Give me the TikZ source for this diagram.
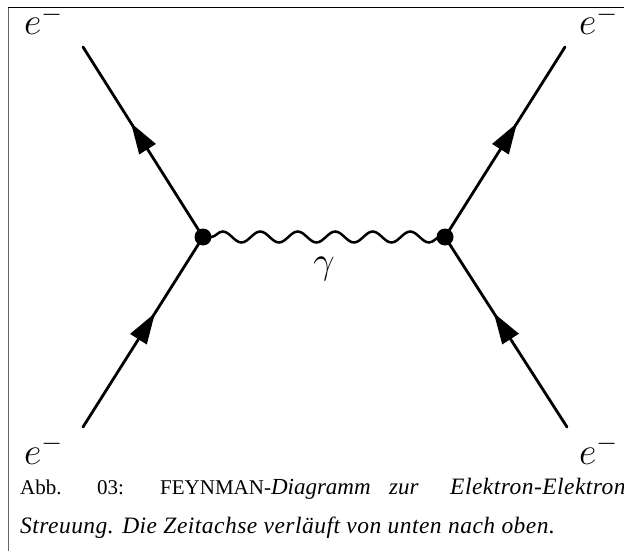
\RequirePackage{fix-cm}
\documentclass[tikz,border=0pt]{standalone}
\usepackage{fontspec}
\setmainfont{Liberation Serif}
\newcommand{\capit}[1]{{\fontsize{23.5}{26}\selectfont\itshape\addfontfeature{LetterSpace=2}#1}}
\newcommand{\capi}[1]{{\fontsize{23}{26}\selectfont\itshape #1}}
\usetikzlibrary{arrows.meta,decorations.markings,decorations.pathmorphing}
\tikzset{
  fermion/.style={line width=2.8pt, line cap=round, postaction={decorate},
    decoration={markings, mark=at position 0.6 with {\arrow{Triangle[length=31pt,width=19pt]}}}},
  photon/.style={line width=2.5pt, decorate,
    decoration={snake, amplitude=5.5pt, segment length=37.5pt, pre=lineto, pre length=8pt}},
  vdot/.style={circle, fill=black, minimum size=17pt, inner sep=0pt},
  plab/.style={font=\fontsize{38}{42}\selectfont, inner sep=0pt},
  captxt/.style={font=\fontsize{21}{25}\selectfont, inner sep=0pt, anchor=base west}
}
\begin{document}
\begin{tikzpicture}[x=1pt,y=-1pt]
\useasboundingbox (0,0) rectangle (624,551);
\begin{scope}
\clip (0,0) rectangle (624,551);
% frame
\draw[black, line width=1pt] (8,8) -- (624,8);
\draw[black!60, line width=1pt] (8,8) -- (8,551);
% points
\coordinate (v1) at (203,237);
\coordinate (v2) at (445,237);
\coordinate (tl) at (83,47);
\coordinate (tr) at (565,47);
\coordinate (bl) at (83,427);
\coordinate (br) at (567,427);
% fermion lines
\draw[fermion] (v1) -- (tl);
\draw[fermion] (bl) -- (v1);
\draw[fermion] (v2) -- (tr);
\draw[fermion] (br) -- (v2);
% photon
\draw[photon] (v1) -- (v2);
\node[vdot] (d1) at (v1) {};
\node[vdot] (d2) at (v2) {};
% labels
\node[plab, anchor=base west] (etl) at (24,35) {$e^-$};
\node[plab, anchor=base west] (etr) at (579,35) {$e^-$};
\node[plab, anchor=base west] (ebl) at (24,464) {$e^-$};
\node[plab, anchor=base west] (ebr) at (579,464) {$e^-$};
\node[plab, anchor=base] (gam) at (324,273) {$\gamma$};
% caption
\node[captxt] (c1) at (20,494) {Abb.};
\node[captxt] (c2) at (97,494) {03:};
\node[captxt] (c3) at (160,494) {FEYNMAN-\capi{Diagramm}};
\node[captxt] (c4) at (389,494) {\capi{zur}};
\node[captxt] (c5) at (450,494) {\capit{Elektron-Elektron}};
\node[captxt] (c6) at (20,533) {\capit{Streuung. Die Zeitachse verläuft von unten nach oben.}};
\end{scope}
\end{tikzpicture}
\end{document}
